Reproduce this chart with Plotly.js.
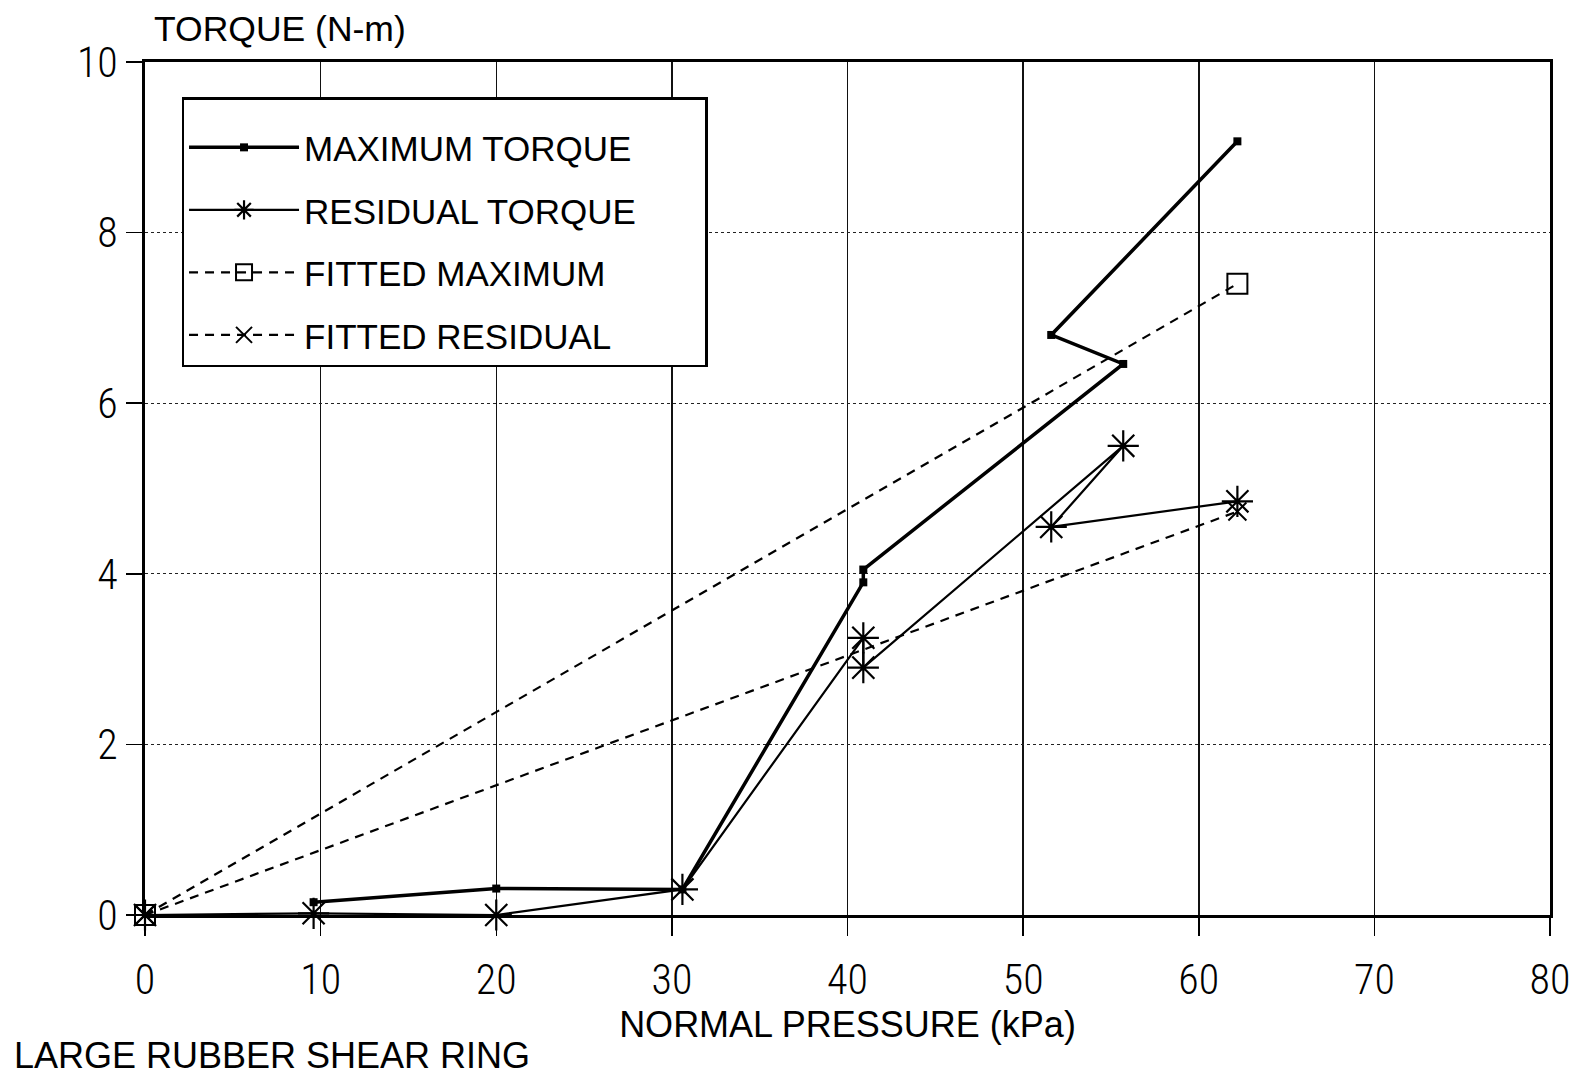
<!DOCTYPE html>
<html>
<head>
<meta charset="utf-8">
<script src="https://cdn.plot.ly/plotly-3.0.1.min.js"></script>
<style>html,body{margin:0;padding:0;background:#fff;}#chart{width:1578px;height:1079px;}</style>
</head>
<body>
<div id="chart"></div>
<script>
// Data
const maxTorqueX = [9.6, 20, 30.6, 40.9, 40.9, 55.7, 51.6, 62.2];
const maxTorqueY = [0.15, 0.31, 0.30, 3.90, 4.05, 6.46, 6.80, 9.07];
const resTorqueX = [0, 9.6, 20, 30.6, 40.9, 40.9, 55.7, 51.6, 62.2];
const resTorqueY = [0, 0.02, 0, 0.30, 3.25, 2.90, 5.50, 4.55, 4.85];
const fitMaxX = [0, 62.2];
const fitMaxY = [0, 7.40];
const fitResX = [0, 62.2];
const fitResY = [0, 4.73];
const xTicks = [0, 10, 20, 30, 40, 50, 60, 70, 80];
const yTicks = [0, 2, 4, 6, 8, 10];
const seriesNames = ['MAXIMUM TORQUE', 'RESIDUAL TORQUE', 'FITTED MAXIMUM', 'FITTED RESIDUAL'];
const xTitle = 'NORMAL PRESSURE (kPa)';
const yTitle = 'TORQUE (N-m)';
const caption = 'LARGE RUBBER SHEAR RING';

const TXT = '"Liberation Sans", Arial, sans-serif';
const NUM = '"Roboto Condensed", "Liberation Sans Narrow", "Liberation Sans", sans-serif';
const PAD = '\u00a0'.repeat(7); // widens the legend box like the reference

const traces = [
  {x: maxTorqueX, y: maxTorqueY, name: seriesNames[0] + PAD, mode: 'lines+markers', legendgroup: 'a', cliponaxis: false,
   line: {color: '#000', width: 3.5}, marker: {symbol: 'square', size: 8, color: '#000'}},
  {x: resTorqueX, y: resTorqueY, name: seriesNames[1], mode: 'lines+markers', legendgroup: 'b', cliponaxis: false,
   line: {color: '#000', width: 2.2}, marker: {symbol: 'asterisk-open', size: 26, color: '#000', line: {color: '#000', width: 2.2}}},
  {x: fitMaxX, y: fitMaxY, name: seriesNames[2], mode: 'lines+markers', legendgroup: 'c', cliponaxis: false,
   line: {color: '#000', width: 2.2, dash: '9px,7px'}, marker: {symbol: 'square-open', size: 20, color: '#000', line: {color: '#000', width: 2}}},
  {x: fitResX, y: fitResY, name: seriesNames[3], mode: 'lines+markers', legendgroup: 'd', cliponaxis: false,
   line: {color: '#000', width: 2.2, dash: '9px,7px'}, marker: {symbol: 'x-thin-open', size: 18, color: '#000', line: {color: '#000', width: 2}}}
];

const layout = {
  width: 1578, height: 1079,
  margin: {l: 145, r: 28, t: 62, b: 164},
  paper_bgcolor: '#fff', plot_bgcolor: '#fff',
  font: {family: TXT, color: '#000', size: 35},
  showlegend: true,
  legend: {x: 0.026, y: 0.9585, xanchor: 'left', yanchor: 'top',
    bordercolor: '#000', borderwidth: 2.5, bgcolor: '#fff',
    font: {family: TXT, size: 35, color: '#000'},
    title: {text: ' ', font: {family: TXT, size: 14}},
    traceorder: 'grouped', tracegroupgap: 14, itemwidth: 110},
  xaxis: {range: [0, 80], tickvals: xTicks, ticktext: xTicks.map(String),
    showline: true, linecolor: '#000', linewidth: 2.8, mirror: true,
    ticks: 'outside', ticklen: 18, tickwidth: 1.5, tickcolor: '#000',
    showgrid: true, gridcolor: '#111', gridwidth: 1.5, griddash: 'solid',
    zeroline: false, tickfont: {family: NUM, size: 42, color: '#000', weight: 300}, ticklabelstandoff: 8,
    title: {text: xTitle, font: {family: TXT, size: 36, color: '#000'}, standoff: 2}},
  yaxis: {range: [0, 10], tickvals: yTicks, ticktext: yTicks.map(String),
    showline: true, linecolor: '#000', linewidth: 2.8, mirror: true,
    ticks: 'outside', ticklen: 16, tickwidth: 1.5, tickcolor: '#000',
    showgrid: true, gridcolor: '#222', gridwidth: 1.2, griddash: 'dot',
    zeroline: false, tickfont: {family: NUM, size: 42, color: '#000', weight: 300}, ticklabelstandoff: 0},
  annotations: [
    {text: yTitle, xref: 'paper', yref: 'paper', x: 0.005, y: 1.0, xanchor: 'left', yanchor: 'bottom',
     yshift: 11, showarrow: false, font: {family: TXT, size: 35.5, color: '#000'}},
    {text: caption, xref: 'paper', yref: 'paper', x: -0.095, y: 0, xanchor: 'left', yanchor: 'top',
     yshift: -118, showarrow: false, font: {family: TXT, size: 36, color: '#000'}}
  ]
};

Plotly.newPlot('chart', traces, layout, {displayModeBar: false, staticPlot: true});
</script>
</body>
</html>
